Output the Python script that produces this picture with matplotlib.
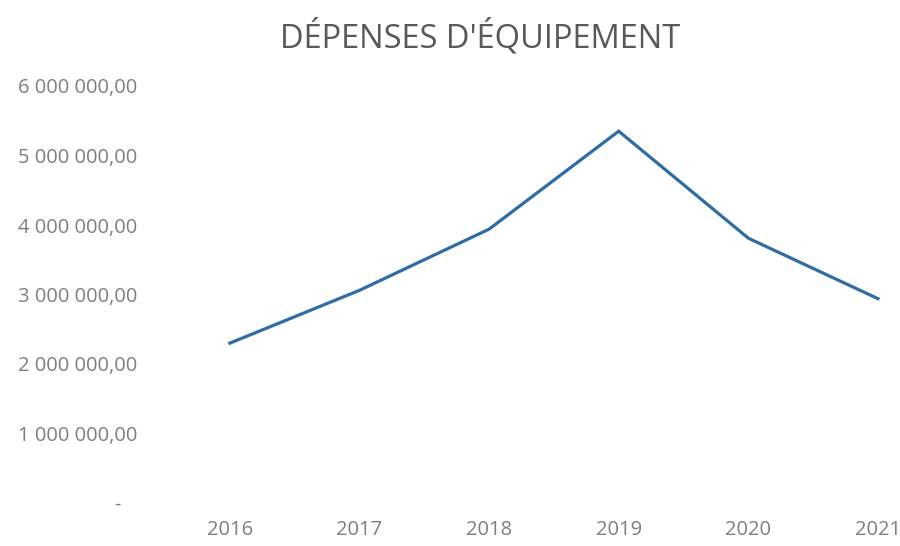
import matplotlib
matplotlib.use("Agg")
import matplotlib.pyplot as plt

years = ["2016", "2017", "2018", "2019", "2020", "2021"]
depenses = [2300000, 3060000, 3940000, 5350000, 3810000, 2940000]
y_ticks = [0, 1000000, 2000000, 3000000, 4000000, 5000000, 6000000]
y_tick_labels = ["-   ", "1 000 000,00", "2 000 000,00", "3 000 000,00",
                 "4 000 000,00", "5 000 000,00", "6 000 000,00"]
title = "DÉPENSES D'ÉQUIPEMENT"

plt.rcParams['font.family'] = ['Open Sans', 'DejaVu Sans']

fig = plt.figure(figsize=(9, 5.46), dpi=100)
ax = fig.add_axes([165/900, 43/546, (900-165)/900, (503-86)/546])
x = list(range(len(years)))
ax.plot(x, depenses, color="#2E6CA4", linewidth=2.3, solid_joinstyle="miter")
ax.set_xlim(-0.5, 5.17)
ax.set_ylim(0, 6000000)
ax.set_xticks(x)
ax.set_xticklabels(years)
ax.set_yticks(y_ticks)
ax.set_yticklabels(y_tick_labels)
for s in ax.spines.values():
    s.set_visible(False)
ax.tick_params(axis="both", length=0, colors="#7F7F7F", labelsize=14.5)
ax.tick_params(axis="y", pad=20)
ax.tick_params(axis="x", pad=12)
fig.text(480/900, 1 - 37/546, title, ha="center", va="center",
         fontsize=23.5, color="#595959")
fig.savefig("out.png", dpi=100)
